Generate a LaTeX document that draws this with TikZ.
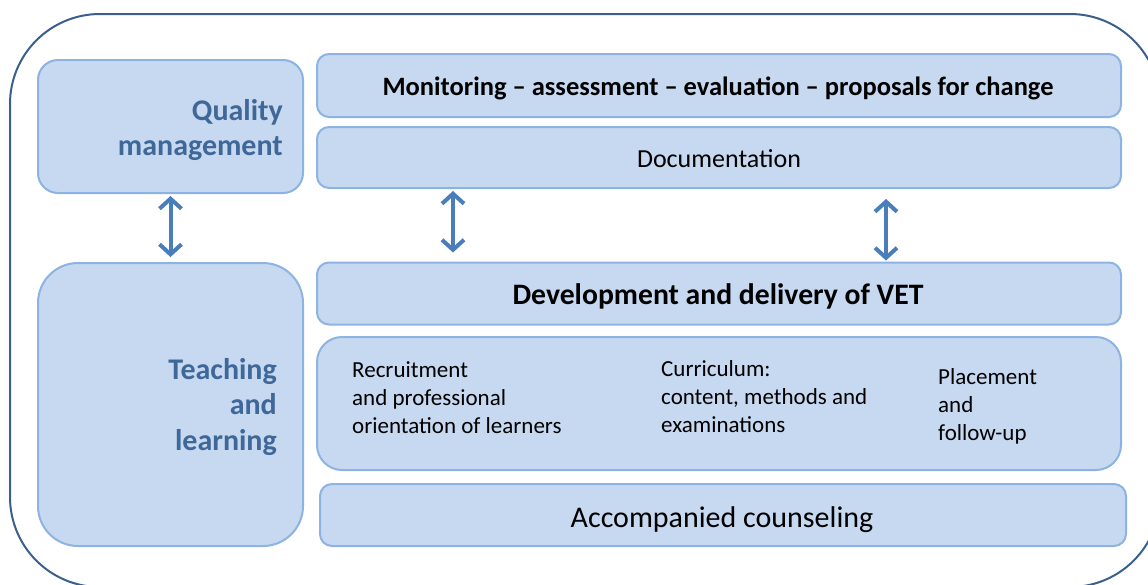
\documentclass[tikz,border=0pt]{standalone}
\usepackage{fontspec}
\setmainfont{Carlito}
\usetikzlibrary{arrows.meta,calc}
\definecolor{boxfill}{HTML}{C6D9F1}
\definecolor{boxline}{HTML}{8DB3E2}
\definecolor{frameblue}{HTML}{3A5F8C}
\definecolor{arrowblue}{HTML}{4A7EBB}
\definecolor{titleblue}{HTML}{3F6797}
\begin{document}
\begin{tikzpicture}[x=1pt,y=-1pt,
  panel/.style={draw=boxline,fill=boxfill,line width=2pt,rectangle,inner sep=0pt},
  bar/.style={panel,rounded corners=12pt},
  sidehead/.style={font=\fontsize{30}{35.5}\selectfont\bfseries,text=titleblue,align=right,inner sep=0pt},
  bodytext/.style={font=\fontsize{23}{28}\selectfont,align=left,inner sep=0pt,anchor=north west},
  link/.style={draw=arrowblue,line width=4pt,{Straight Barb[length=10pt,width=22pt,line width=4pt]}-{Straight Barb[length=10pt,width=22pt,line width=4pt]}}
]
\useasboundingbox (0,0) rectangle (1148,584);
\begin{scope}
\clip (0,0) rectangle (1148,584);
\draw[frameblue,line width=2pt,rounded corners=90pt] (10,14) rectangle (1160,587);
\end{scope}

% left column
\node[panel,rounded corners=20pt,minimum width=265pt,minimum height=133pt] (qm) at (170.5,126.5) {};
\node[panel,rounded corners=40pt,minimum width=265pt,minimum height=283pt] (tl) at (170.5,404.5) {};
\node[sidehead,anchor=east] (qmtext) at (283,130) {Quality\\management};
\node[sidehead,anchor=east] (tltext) at (277,407) {Teaching\\and\\learning};

% right column
\node[bar,minimum width=804pt,minimum height=63pt] (mon) at (719,85.5) {};
\node[bar,minimum width=804pt,minimum height=61pt] (doc) at (719,157.5) {};
\node[bar,minimum width=804pt,minimum height=62pt] (dev) at (719,293.5) {};
\node[panel,rounded corners=25pt,minimum width=804pt,minimum height=133pt] (mid) at (719,403.5) {};
\node[bar,minimum width=806pt,minimum height=62pt] (acc) at (723,515) {};

\node[font=\fontsize{26.5}{30}\selectfont\bfseries,inner sep=0pt] (montext) at (718,88) {Monitoring -- assessment -- evaluation -- proposals for change};
\node[font=\fontsize{26}{30}\selectfont,inner sep=0pt] (doctext) at (719,158.5) {Documentation};
\node[font=\fontsize{29.7}{34}\selectfont\bfseries,inner sep=0pt] (devtext) at (718,296.5) {Development and delivery of VET};
\node[bodytext] (rec) at (352,361) {Recruitment\\and professional\\orientation of learners};
\node[bodytext] (cur) at (661,360) {Curriculum:\\content, methods and\\examinations};
\node[bodytext] (pla) at (938,368) {Placement\\and\\follow-up};
\node[font=\fontsize{30}{34}\selectfont,inner sep=0pt] (acctext) at (722,519.5) {Accompanied counseling};

% connectors
\coordinate (ca) at (453,0);
\coordinate (cb) at (886,0);
\draw[link,shorten <=2pt,shorten >=5pt] (qm.south) -- (tl.north);
\draw[link,shorten <=2pt,shorten >=9pt] (ca |- doc.south) -- (ca |- dev.north);
\draw[link,shorten <=10pt,shorten >=1pt] (cb |- doc.south) -- (cb |- dev.north);
\end{tikzpicture}
\end{document}
